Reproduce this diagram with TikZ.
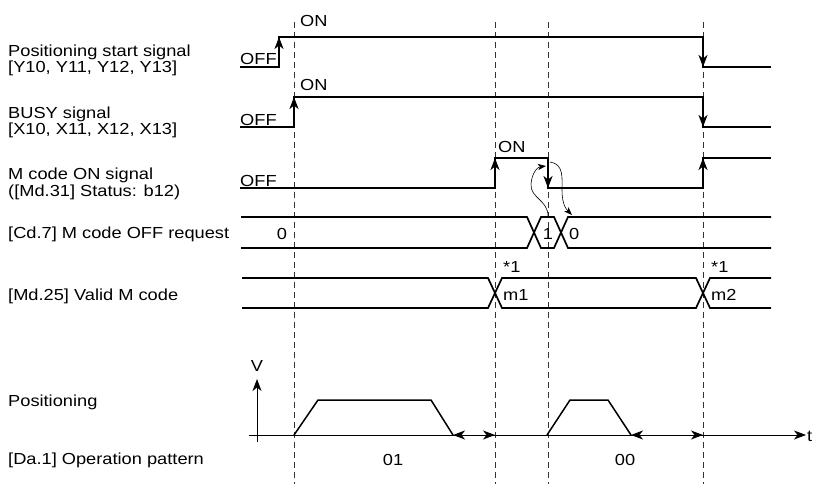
\documentclass[tikz,border=0pt]{standalone}
\usepackage{fontspec}
\setmainfont{Liberation Sans}[FakeStretch=1.14]
\usetikzlibrary{arrows.meta}

\begin{document}
\begin{tikzpicture}[x=1pt,y=-1pt,
  every node/.style={inner sep=0pt,font=\fontsize{16}{16.5}\selectfont},
  sig/.style={line width=1.9pt},
  bus/.style={line width=1.7pt},
  tip/.style={-{Stealth[length=12pt,width=9pt,inset=3.5pt]}},
  tipboth/.style={{Stealth[length=12pt,width=9pt,inset=3.5pt]}-{Stealth[length=12pt,width=9pt,inset=3.5pt]}},
  dline/.style={dash pattern=on 6pt off 4pt,line width=0.8pt,black!80},
  curv/.style={line width=0.6pt,-{Stealth[length=8pt,width=6pt,inset=2pt]}}]
  \useasboundingbox (0,0) rectangle (813,484);

  % time marks
  \foreach \tx in {294,495,548,703}
    \draw[dline] (\tx,22) -- (\tx,484);

  % signal names
  \node[anchor=base west] (lStart) at (8,57) {Positioning start signal};
  \node[anchor=base west] (lStartB) at (8,73) {[Y10, Y11, Y12, Y13]};
  \node[anchor=base west] (lBusy) at (8,118) {BUSY signal};
  \node[anchor=base west] (lBusyB) at (8,134) {[X10, X11, X12, X13]};
  \node[anchor=base west] (lMon) at (8,179) {M code ON signal};
  \node[anchor=base west] (lMonB) at (8,196) {([Md.31] Status: b12)};
  \node[anchor=base west] (lCd) at (8,238) {[Cd.7] M code OFF request};
  \node[anchor=base west] (lMd) at (8,300) {[Md.25] Valid M code};
  \node[anchor=base west] (lPos) at (8,406) {Positioning};
  \node[anchor=base west] (lDa) at (8,464) {[Da.1] Operation pattern};

  % positioning start signal
  \draw[sig] (240,67) -| (279,37) -| (703,67) -- (771,67);
  \draw[sig,tip] (279,67) -- (279,37);
  \draw[sig,tip] (703,37) -- (703,67);
  \node[anchor=base west] (onA) at (300,27) {ON};
  \node[anchor=base west] (offA) at (240,65) {OFF};

  % BUSY
  \draw[sig] (240,127) -| (294,97) -| (703,127) -- (771,127);
  \draw[sig,tip] (294,127) -- (294,97);
  \draw[sig,tip] (703,97) -- (703,127);
  \node[anchor=base west] (onB) at (300,91) {ON};
  \node[anchor=base west] (offB) at (240,125) {OFF};

  % M code ON
  \draw[sig] (240,188) -| (495,158) -| (548,188) -| (703,158) -- (771,158);
  \draw[sig,tip] (495,188) -- (495,158);
  \draw[sig,tip] (548,158) -- (548,188);
  \draw[sig,tip] (703,188) -- (703,158);
  \node[anchor=base west] (onC) at (498,152) {ON};
  \node[anchor=base west] (offC) at (240,186) {OFF};

  % Cd.7
  \draw[bus] (241,217) -- (527,217) -- (541,248) -- (554,248) -- (568,217) -- (771,217);
  \draw[bus] (241,248) -- (527,248) -- (541,217) -- (554,217) -- (568,248) -- (771,248);
  \node[anchor=base] (cdA) at (282,239) {0};
  \node[anchor=base] (cdB) at (548,239) {1};
  \node[anchor=base west] (cdC) at (569,239) {0};

  % Md.25
  \draw[bus] (242,278) -- (488,278) -- (502,308) -- (696,308) -- (710,278) -- (771,278);
  \draw[bus] (242,308) -- (488,308) -- (502,278) -- (696,278) -- (710,308) -- (771,308);
  \node[anchor=base west] (starA) at (503,272) {*1};
  \node[anchor=base west] (starB) at (711,272) {*1};
  \node[anchor=base west] (mdA) at (503,300) {m1};
  \node[anchor=base west] (mdB) at (711,300) {m2};

  % handshake
  \coordinate (cdOne) at (548,216);
  \coordinate (mFall) at (546,166);
  \coordinate (mFallB) at (550,162);
  \coordinate (cdZero) at (572,215);
  \draw[curv] (cdOne) .. controls (548,200) and (530,198) .. (531,184)
    .. controls (532,172) and (538,167) .. (mFall);
  \draw[curv] (mFallB) .. controls (564,164) and (562,178) .. (562,190)
    .. controls (562,204) and (566,209) .. (cdZero);

  % speed
  \draw[line width=1pt,tip] (249,435) -- (806,435);
  \draw[line width=1pt,tip] (257,442) -- (257,379);
  \node[anchor=base] (vlab) at (257,371) {V};
  \node[anchor=base west] (tlab) at (807,441) {t};
  \draw[line width=1.5pt] (294,435) -- (318,400) -- (431,400) -- (453,435);
  \draw[line width=1.5pt] (547,435) -- (570,400) -- (608,400) -- (631,435);
  \draw[line width=1pt,tipboth] (453,435) -- (495,435);
  \draw[line width=1pt,tipboth] (631,435) -- (703,435);
  \node[anchor=base] (patA) at (393,465) {01};
  \node[anchor=base] (patB) at (625,465) {00};
\end{tikzpicture}
\end{document}
